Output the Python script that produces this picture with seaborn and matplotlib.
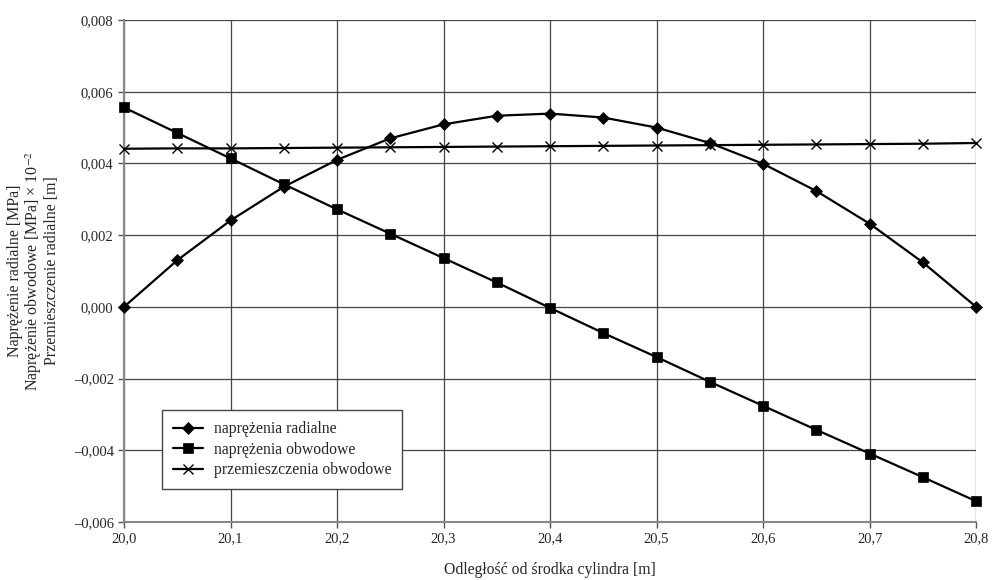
import numpy as np
import pandas as pd
import matplotlib
matplotlib.use("Agg")
import matplotlib.pyplot as plt
import matplotlib.ticker as mticker
import seaborn as sns

# odleglosc od srodka cylindra [m]
r = [20.0, 20.05, 20.1, 20.15, 20.2, 20.25, 20.3, 20.35, 20.4,
     20.45, 20.5, 20.55, 20.6, 20.65, 20.7, 20.75, 20.8]

# naprezenia radialne
radialne = [0.0, 0.0013, 0.00241, 0.00335, 0.0041, 0.0047, 0.00509, 0.00533, 0.00539,
            0.00528, 0.0050, 0.00457, 0.00399, 0.00323, 0.00232, 0.00124, 0.0]

# naprezenia obwodowe
obwodowe = [0.00556, 0.00485, 0.00414, 0.00342, 0.00272, 0.00204, 0.00136, 0.00068, -0.00003,
            -0.00073, -0.0014, -0.00209, -0.00276, -0.00343, -0.00409, -0.00475, -0.00542]

# przemieszczenia obwodowe
przem = [0.00441, 0.00442, 0.00442, 0.00443, 0.00444, 0.00445, 0.00446, 0.00447, 0.00448,
         0.00449, 0.0045, 0.00451, 0.00452, 0.00453, 0.00454, 0.00455, 0.00457]

nazwy = ["naprężenia radialne", "naprężenia obwodowe", "przemieszczenia obwodowe"]
x_ticks = [20.0, 20.1, 20.2, 20.3, 20.4, 20.5, 20.6, 20.7, 20.8]
y_ticks = [-0.006, -0.004, -0.002, 0.0, 0.002, 0.004, 0.006, 0.008]

sns.set_style("white")
plt.rcParams['font.family'] = ['Liberation Serif', 'DejaVu Serif']
plt.rcParams['mathtext.fontset'] = 'stix'

fig = plt.figure(figsize=(9.93, 5.80), dpi=100)
ax = fig.add_axes([0.1249, 0.1, 0.983 - 0.1249, 0.9655 - 0.1])

markery = ["D", "s", "x"]
rozmiary = [6, 7, 7]
for seria, nazwa, m, ms in zip([radialne, obwodowe, przem], nazwy, markery, rozmiary):
    df = pd.DataFrame({"r": r, "v": seria})
    sns.lineplot(data=df, x="r", y="v", ax=ax, color="black", lw=1.6,
                 marker=m, markersize=ms, markeredgecolor="black",
                 markeredgewidth=1.0 if m == "x" else 0.5, label=nazwa,
                 clip_on=False, zorder=3)

ax.set_xlim(20.0, 20.8)
ax.set_ylim(-0.006, 0.008)
ax.set_xticks(x_ticks)
ax.set_yticks(y_ticks)
ax.xaxis.set_major_formatter(mticker.FuncFormatter(lambda v, p: f"{v:.1f}".replace(".", ",")))
ax.yaxis.set_major_formatter(mticker.FuncFormatter(
    lambda v, p: (f"{v:.3f}".replace(".", ",").replace("-", "\u2013")) if abs(v) > 1e-12 else "0,000"))
ax.tick_params(axis="both", labelsize=10.5, length=4, width=1, color="#555", direction="out",
               left=True, bottom=True)
ax.grid(True, color="#444", lw=0.9)
for s in ["left", "bottom"]:
    ax.spines[s].set_color("#888")
    ax.spines[s].set_linewidth(1.5)
for s in ["top", "right"]:
    ax.spines[s].set_visible(False)

ax.set_xlabel("Odległość od środka cylindra [m]", fontsize=11.3, labelpad=12)
ax.set_ylabel("Naprężenie radialne [MPa]\nNaprężenie obwodowe [MPa] × 10$^{-2}$\nPrzemieszczenie radialne [m]",
              fontsize=11.5, labelpad=10, linespacing=1.0)

leg = ax.legend(loc="upper left", bbox_to_anchor=(0.0446, 0.223), fontsize=11.3,
                frameon=True, fancybox=False, framealpha=1, edgecolor="#444",
                handlelength=1.9, handletextpad=0.7, borderpad=0.7, labelspacing=0.3,
                borderaxespad=0)
leg.get_frame().set_linewidth(1.0)

fig.savefig("out.png", dpi=100)
